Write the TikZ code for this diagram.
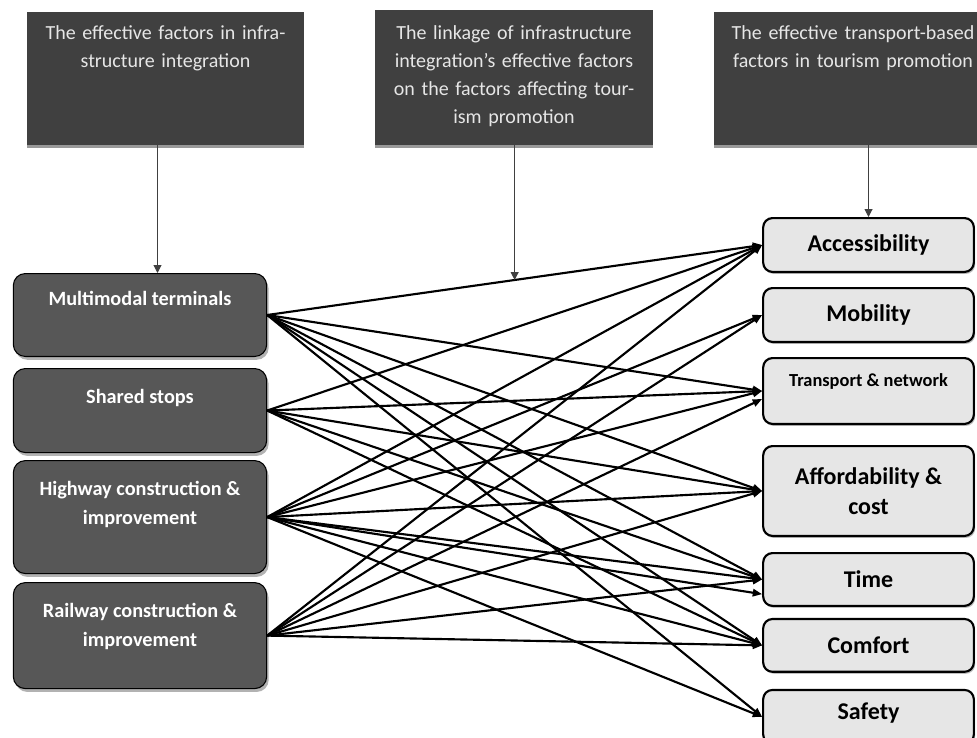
\documentclass[tikz,border=0pt]{standalone}
\usepackage{fontspec}
\setmainfont{Carlito}
\usetikzlibrary{arrows.meta, positioning, shadows}
\definecolor{headgray}{HTML}{404040}
\definecolor{headink}{HTML}{E6E6E6}
\definecolor{infragray}{HTML}{575757}
\definecolor{tourgray}{HTML}{E6E6E6}

\begin{document}
\begin{tikzpicture}[
    x=0.75pt, y=-0.75pt,
    header/.style={rectangle, fill=headgray, minimum width=208pt, minimum height=99.75pt, drop shadow={shadow xshift=0pt, shadow yshift=-2pt, fill=black!40, opacity=1}},
    headtext/.style={text=headink, font=\fontsize{15}{21}\selectfont, text width=200pt, align=center, inner sep=0pt},
    infrabox/.style={rectangle, draw=black, line width=0.8pt, fill=infragray, rounded corners=9pt, minimum width=190pt, drop shadow={shadow xshift=1.5pt, shadow yshift=-2.5pt, fill=black!30, opacity=1}},
    infratext/.style={text=white, font=\fontsize{15.2}{22}\selectfont\bfseries, align=center, inner sep=0pt},
    tour/.style={rectangle, draw=black, line width=1.6pt, fill=tourgray, rounded corners=7pt, minimum width=158pt, align=center, font=\fontsize{18}{22.5}\selectfont\bfseries, drop shadow={shadow xshift=1pt, shadow yshift=-1.5pt, fill=black!25, opacity=1}},
    tourtext/.style={text=black, font=\fontsize{13.8}{16}\selectfont\bfseries, inner sep=0pt},
    link/.style={draw=black, line width=1.6pt, -{Triangle[length=7pt, width=5.5pt]}},
    feed/.style={draw=black!75, line width=0.75pt, -{Triangle[length=6pt, width=6pt]}}
]
    \useasboundingbox (0,0) rectangle (977,738);
    \clip (0,0) rectangle (977,738);
    \fill[white] (0,0) rectangle (977,738);

    % --- Headers ---
    \node[header, label={[headtext, anchor=north, yshift=-10.5pt]north:The effective factors in infra-\\structure integration}] (infrahead) at (165.5,78.5) {};
    \node[header, minimum height=101.25pt, label={[headtext, anchor=north, yshift=-12pt]north:The linkage of infrastructure\\integration's effective factors\\on the factors affecting tour-\\ism promotion}] (linkhead) at (514,77.5) {};
    \node[header, label={[headtext, anchor=north, yshift=-10.5pt]north:The effective transport-based\\factors in tourism promotion}] (tourhead) at (853,78.5) {};

    % --- Infrastructure integration factors ---
    \node[infrabox, minimum height=62.2pt, label={[infratext, anchor=north, yshift=-13.5pt]north:Multimodal terminals}] (multimodal) at (140,315) {};
    \node[infrabox, minimum height=63pt, below=8.25pt of multimodal, label={[infratext, anchor=north, yshift=-15.5pt]north:Shared stops}] (shared) {};
    \node[infrabox, minimum height=84.7pt, below=5.25pt of shared, label={[infratext, anchor=north, yshift=-15.5pt]north:Highway construction \&\\improvement}] (highway) {};
    \node[infrabox, minimum height=79.5pt, below=6pt of highway, label={[infratext, anchor=north, yshift=-15.5pt]north:Railway construction \&\\improvement}] (railway) {};

    % --- Tourism promotion factors ---
    \node[tour, minimum height=40.4pt] (access) at (868.5,245) {Accessibility};
    \node[tour, minimum height=40.4pt, below=10.5pt of access] (mobility) {Mobility};
    \node[tour, minimum height=49.4pt, below=10.5pt of mobility, label={[tourtext, anchor=north, yshift=-12pt]north:Transport \& network}] (transport) {};
    \node[tour, minimum height=67.4pt, below=15pt of transport] (afford) {Affordability \&\\cost};
    \node[tour, minimum height=39.6pt, below=11.25pt of afford] (time) {Time};
    \node[tour, minimum height=39.6pt, below=8.25pt of time] (comfort) {Comfort};
    \node[tour, minimum height=40.4pt, below=9pt of comfort, text depth=8pt, yshift=-3pt] (safety) {Safety};

    % --- Connections ---
    \draw[link] (multimodal.east) -- coordinate[pos=0.5] (meet) (access.west);
    \foreach \dst in {transport, afford, time, comfort, safety}
        \draw[link] (multimodal.east) -- (\dst.west);
    \foreach \dst in {access, transport, afford, time, comfort}
        \draw[link] (shared.east) -- (\dst.west);
    \foreach \dst in {access, mobility, transport, afford, time, comfort, safety}
        \draw[link] (highway.east) -- (\dst.west);
    \draw[link] (highway.east) -- ([yshift=-11pt]time.west);
    \foreach \dst in {access, mobility, afford, time, comfort}
        \draw[link] (railway.east) -- (\dst.west);
    \draw[link] (railway.east) -- ([yshift=-6pt]transport.west);

    % Header arrows
    \draw[feed] ([xshift=-6pt]infrahead.south) -- ([xshift=-6pt]infrahead.south |- multimodal.north);
    \draw[feed] (linkhead.south -| meet) -- (meet);
    \draw[feed] (tourhead.south -| access.north) -- (access.north);

\end{tikzpicture}
\end{document}
